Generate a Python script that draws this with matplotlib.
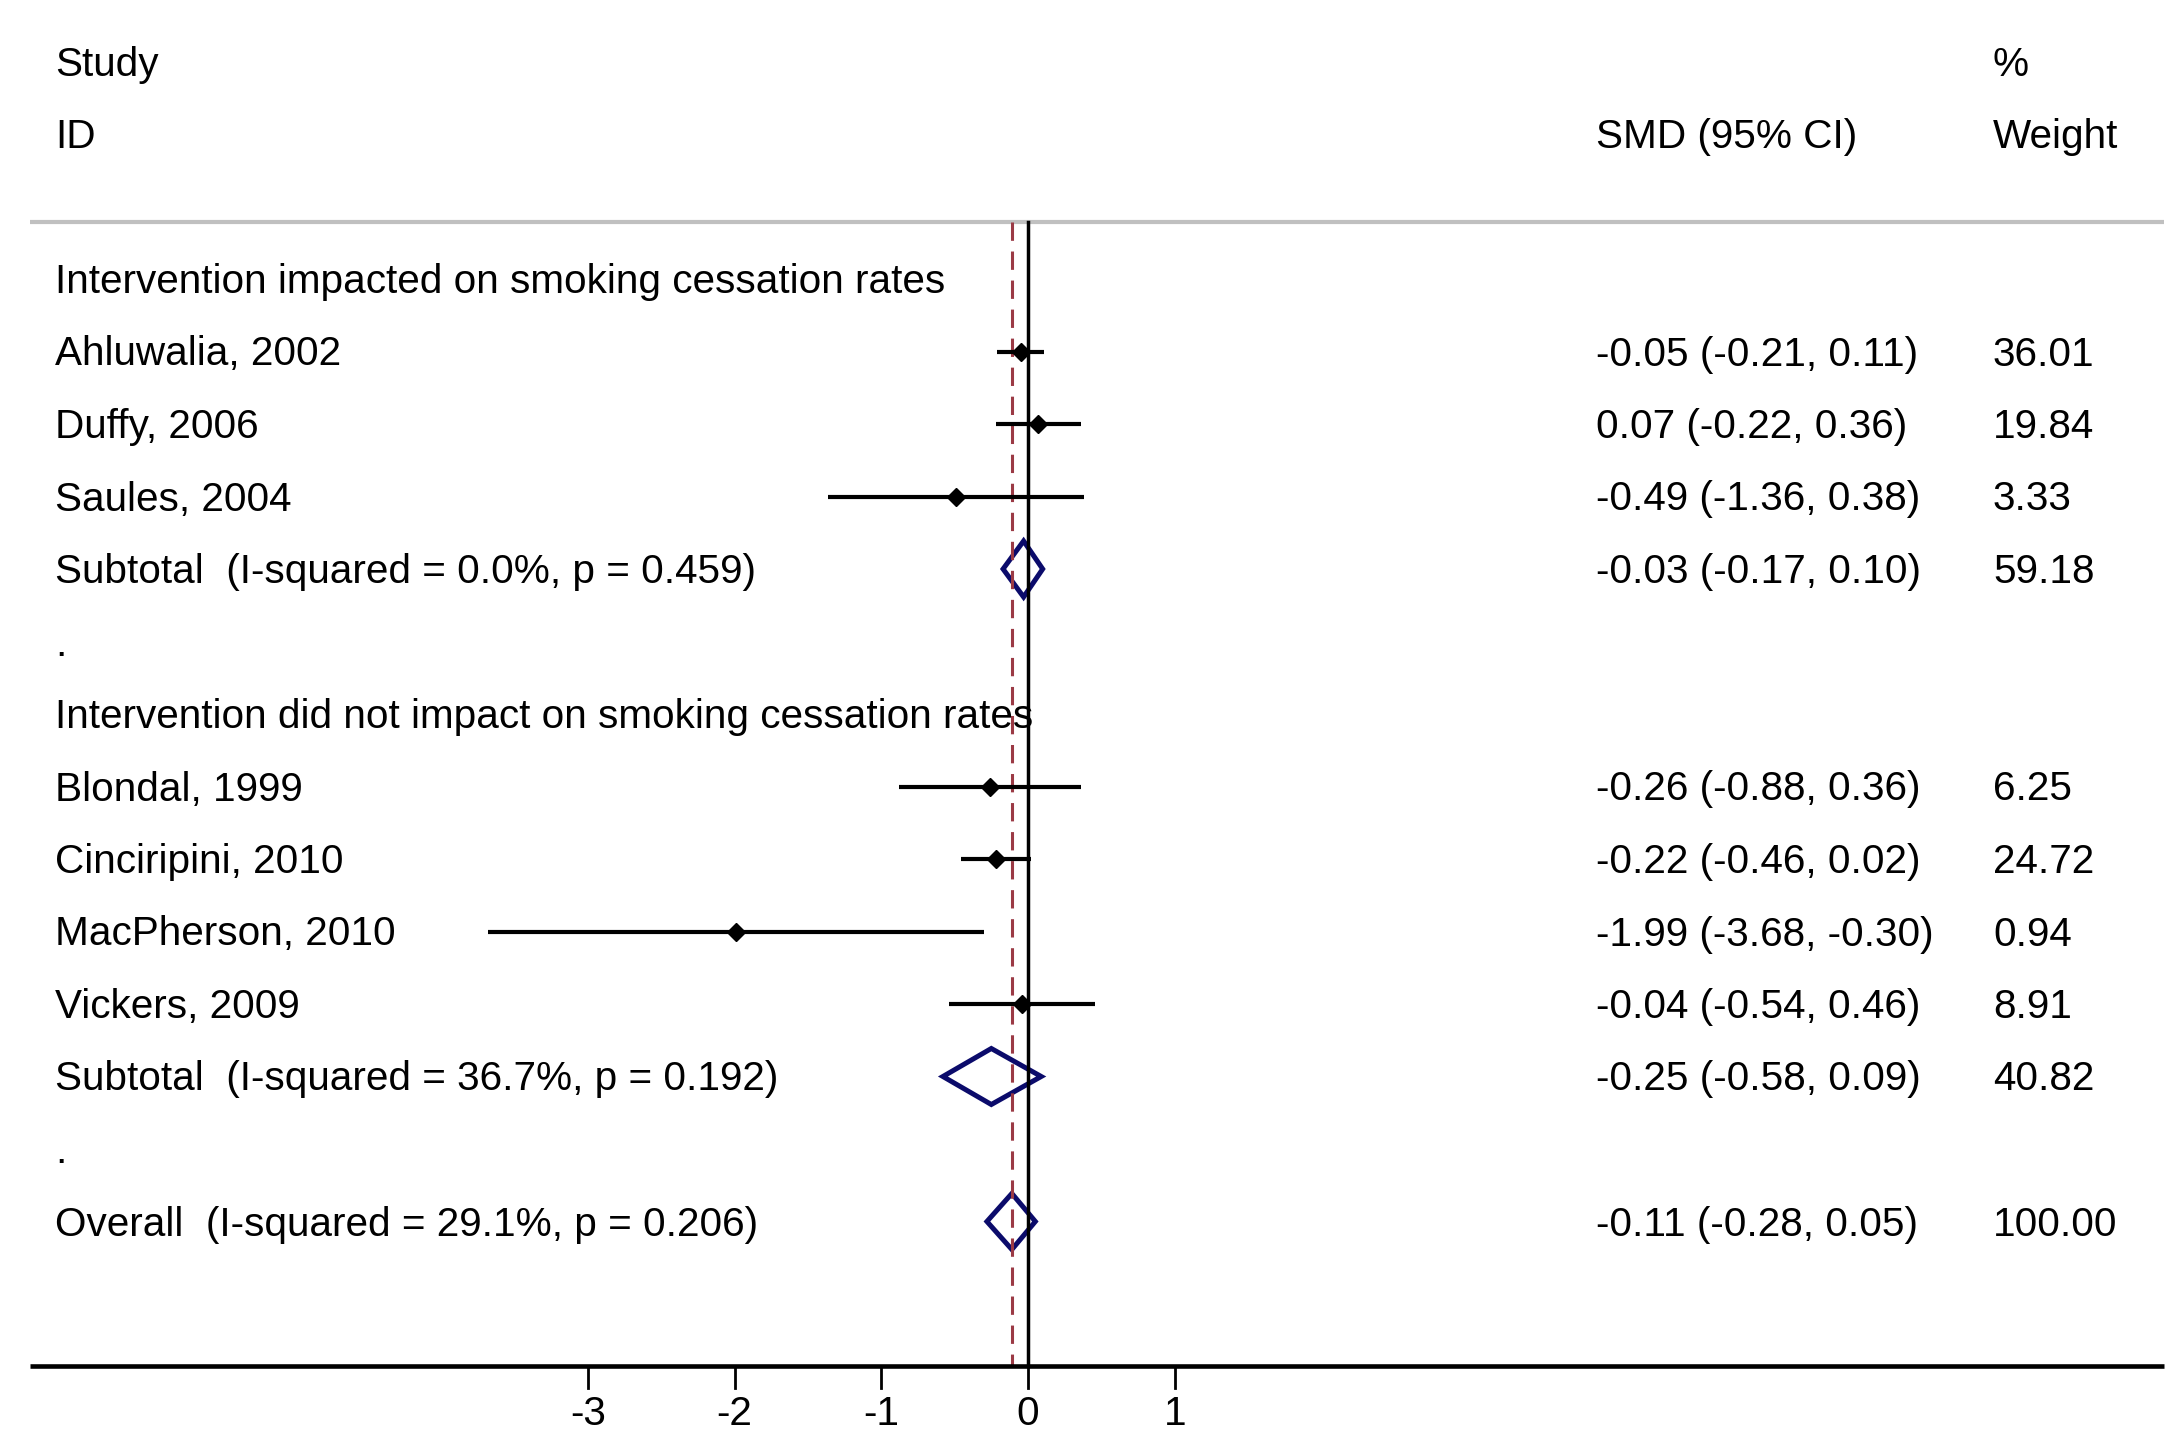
import numpy as np
import matplotlib.pyplot as plt
from matplotlib.patches import Polygon
import matplotlib.transforms as mtransforms

plt.rcParams['font.family'] = ['Liberation Sans', 'DejaVu Sans']

# rows of the forest plot, top to bottom
labels = ["Intervention impacted on smoking cessation rates",
          "Ahluwalia, 2002", "Duffy, 2006", "Saules, 2004",
          "Subtotal  (I-squared = 0.0%, p = 0.459)", ".",
          "Intervention did not impact on smoking cessation rates",
          "Blondal, 1999", "Cinciripini, 2010", "MacPherson, 2010", "Vickers, 2009",
          "Subtotal  (I-squared = 36.7%, p = 0.192)", ".",
          "Overall  (I-squared = 29.1%, p = 0.206)"]
kinds = ["head", "study", "study", "study", "pool", "blank",
         "head", "study", "study", "study", "study", "pool", "blank", "pool"]
smd = [None, -0.05, 0.07, -0.49, -0.03, None,
       None, -0.26, -0.22, -1.99, -0.04, -0.25, None, -0.11]
lo = [None, -0.21, -0.22, -1.36, -0.17, None,
      None, -0.88, -0.46, -3.68, -0.54, -0.58, None, -0.28]
hi = [None, 0.11, 0.36, 0.38, 0.10, None,
      None, 0.36, 0.02, -0.30, 0.46, 0.09, None, 0.05]
weight = [None, "36.01", "19.84", "3.33", "59.18", None,
          None, "6.25", "24.72", "0.94", "8.91", "40.82", None, "100.00"]
ticks = [-3, -2, -1, 0, 1]
overall = -0.11

W, H = 2175, 1430
fig = plt.figure(figsize=(W / 100, H / 100), dpi=100)
ax = fig.add_axes([0, 0, 1, 1])
ppu = 146.7  # pixels per SMD unit
x0 = 1028
ax.set_xlim(-x0 / ppu, (W - x0) / ppu)
ax.set_ylim(H, 0)  # y in pixels from top
ax.axis('off')

row_y = 279 + 72.5 * np.arange(len(labels))
y_top, y_axis = 222, 1366
fs = 29.2
dy = 3  # text sits a touch lower than the marks

tx = mtransforms.blended_transform_factory(ax.transAxes, ax.transData)

# header
ax.text(55 / W, 62 + dy, "Study", fontsize=fs, va='center', transform=tx)
ax.text(55 / W, 134 + dy, "ID", fontsize=fs, va='center', transform=tx)
ax.text(1993 / W, 62 + dy, "%", fontsize=fs, va='center', transform=tx)
ax.text(1596 / W, 134 + dy, "SMD (95% CI)", fontsize=fs, va='center', transform=tx)
ax.text(1993 / W, 134 + dy, "Weight", fontsize=fs, va='center', transform=tx)
ax.plot([30 / W, 2164 / W], [y_top, y_top], color='#c0c0c0', lw=3, transform=tx,
        solid_capstyle='butt')

# reference lines
ax.plot([0, 0], [y_top, y_axis], color='black', lw=2.5)
ax.plot([overall, overall], [y_top, y_axis], color='#9b3a45', lw=2.2,
        dashes=(6, 3.5))

for i, lab in enumerate(labels):
    y = row_y[i]
    ax.text(55 / W, y + dy, lab, fontsize=fs, va='center', transform=tx)
    if smd[i] is None:
        continue
    ax.text(1596 / W, y + dy, "%.2f (%.2f, %.2f)" % (smd[i], lo[i], hi[i]),
            fontsize=fs, va='center', transform=tx)
    ax.text(1993 / W, y + dy, weight[i], fontsize=fs, va='center', transform=tx)
    if kinds[i] == "study":
        ax.plot([lo[i], hi[i]], [y, y], color='black', lw=3, solid_capstyle='butt')
        ax.plot(smd[i], y, marker='D', color='black', ms=9)
    else:
        hh = 28
        ax.add_patch(Polygon([[lo[i], y], [smd[i], y - hh], [hi[i], y], [smd[i], y + hh]],
                             closed=True, fill=False, edgecolor='#0b0b6b', lw=3.6,
                             joinstyle='miter'))

# x axis
ax.plot([30 / W, 2164 / W], [y_axis, y_axis], color='black', lw=3.3, transform=tx,
        solid_capstyle='butt')
for t in ticks:
    ax.plot([t, t], [y_axis, y_axis + 22], color='black', lw=2)
    ax.text(t, 1414, str(t), fontsize=fs, ha='center', va='center')

fig.savefig("out.png", dpi=100)
